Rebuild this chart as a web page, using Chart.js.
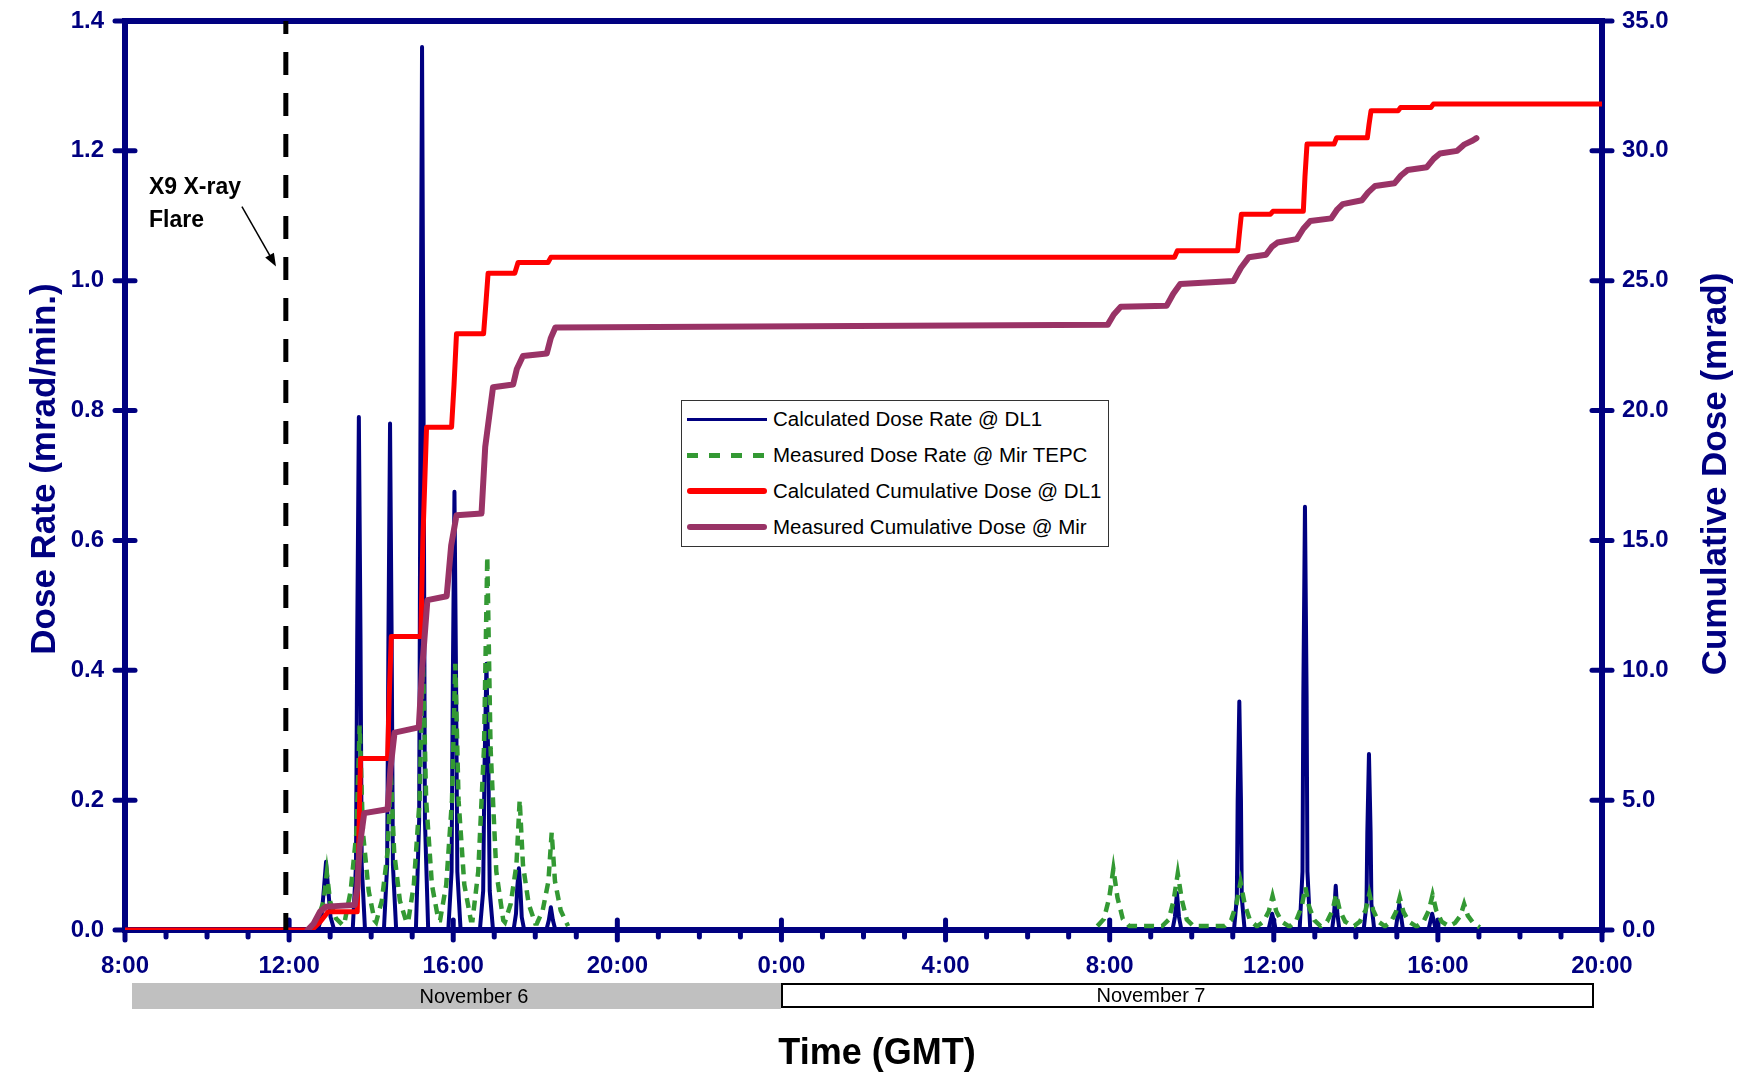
<!DOCTYPE html>
<html>
<head>
<meta charset="utf-8">
<script src="https://cdn.jsdelivr.net/npm/chart.js@4.4.1/dist/chart.umd.min.js"></script>
<style>
  body { margin: 0; background: #fff; }
  #wrap { position: relative; width: 1740px; height: 1075px; background: #fff; overflow: hidden;
          font-family: "Liberation Sans", Arial, sans-serif; }
  #chart { position: absolute; left: 0; top: 0; }
  .title { position: absolute; font-weight: bold; text-align: center; white-space: nowrap; }
  .vtitle { width: 500px; height: 40px; line-height: 40px; font-size: 35px; color: #000080;
            transform: rotate(-90deg); }
  #legend { position: absolute; left: 681px; top: 400px; width: 428px; height: 147px; box-sizing: border-box;
            border: 1.5px solid #333; background: #fff; font-size: 20.5px; color: #000; }
  #legend .row { display: flex; align-items: center; height: 36px; }
  #legend .swatch { display: inline-block; width: 80px; margin-left: 5px; margin-right: 6px; }
  .day { position: absolute; box-sizing: border-box; }
  .daytext { position: absolute; width: 200px; text-align: center; font-size: 20px; line-height: 26px; color: #000; }
  #note { position: absolute; left: 149px; top: 170px; font-weight: bold; font-size: 23px; line-height: 33px; color: #000; }
</style>
</head>
<body>
<div id="wrap">
  <canvas id="chart" width="1740" height="1075"></canvas>
  <div class="title vtitle" style="left:-207px; top:449px;">Dose Rate (mrad/min.)</div>
  <div class="title vtitle" style="left:1464px; top:454px;">Cumulative Dose (mrad)</div>
  <div class="title" style="left:727px; top:1032px; width:300px; font-size:36px; line-height:40px; color:#000;">Time (GMT)</div>
  <div id="note">X9 X-ray<br>Flare</div>
  <div class="day" style="left:132px; top:983px; width:649px; height:26px; background:#c0c0c0;"></div>
  <div class="day" style="left:781px; top:983px; width:813px; height:25px; border:2px solid #000; background:#fff;"></div>
  <div class="daytext" style="left:374px; top:983px;">November 6</div>
  <div class="daytext" style="left:1051px; top:982px;">November 7</div>
  <div id="legend">
    <div class="row"><span class="swatch" style="height:3px; background:#000080;"></span><span>Calculated Dose Rate @ DL1</span></div>
    <div class="row"><span class="swatch" style="height:5px; background:repeating-linear-gradient(90deg, #339933 0 11px, transparent 11px 22px);"></span><span>Measured Dose Rate @ Mir TEPC</span></div>
    <div class="row"><span class="swatch" style="height:6px; border-radius:3px; background:#ff0000;"></span><span>Calculated Cumulative Dose @ DL1</span></div>
    <div class="row"><span class="swatch" style="height:6px; border-radius:3px; background:#993366;"></span><span>Measured Cumulative Dose @ Mir</span></div>
  </div>
</div>
<script>
// time is hours since Nov 6 0:00 GMT (8 = Nov 6 8:00, 44 = Nov 7 20:00)
const NAVY = '#000080';

// Calculated Dose Rate @ DL1 (mrad/min)
const calcRateHours = [
  8.0, 12.70, 12.79, 12.85, 12.90, 12.95, 13.01, 13.10,
  13.55, 13.63, 13.66, 13.70, 13.74, 13.77, 13.85,
  14.31, 14.39, 14.42, 14.46, 14.50, 14.53, 14.61,
  15.09, 15.17, 15.20, 15.24, 15.28, 15.31, 15.39,
  15.88, 15.96, 15.99, 16.03, 16.07, 16.10, 16.18,
  16.65, 16.73, 16.76, 16.81, 16.86, 16.89, 16.97,
  17.47, 17.53, 17.56, 17.60, 17.64, 17.67, 17.73,
  18.27, 18.33, 18.38, 18.43, 18.49,
  33.53, 33.59, 33.64, 33.69, 33.75,
  35.03, 35.10, 35.12, 35.16, 35.20, 35.22, 35.29,
  35.87, 35.96, 36.05,
  36.63, 36.70, 36.72, 36.76, 36.80, 36.82, 36.89,
  37.42, 37.47, 37.51, 37.55, 37.60,
  38.19, 38.26, 38.28, 38.32, 38.36, 38.38, 38.45,
  38.97, 39.06, 39.15,
  39.77, 39.86, 39.95, 44.0
];
const calcRateValues = [
  0, 0, 0.02, 0.065, 0.105, 0.065, 0.02, 0,
  0, 0.1, 0.45, 0.79, 0.45, 0.1, 0,
  0, 0.1, 0.44, 0.78, 0.44, 0.1, 0,
  0, 0.17, 0.75, 1.36, 0.75, 0.17, 0,
  0, 0.09, 0.38, 0.675, 0.38, 0.09, 0,
  0, 0.06, 0.24, 0.41, 0.24, 0.06, 0,
  0, 0.025, 0.065, 0.095, 0.06, 0.02, 0,
  0, 0.015, 0.035, 0.015, 0,
  0, 0.02, 0.057, 0.02, 0,
  0, 0.05, 0.2, 0.352, 0.2, 0.05, 0,
  0, 0.025, 0,
  0, 0.09, 0.36, 0.652, 0.36, 0.09, 0,
  0, 0.025, 0.068, 0.025, 0,
  0, 0.04, 0.15, 0.271, 0.15, 0.04, 0,
  0, 0.04, 0,
  0, 0.025, 0, 0
];

// Measured Dose Rate @ Mir TEPC (mrad/min), null = no data
const measRateHours = [
  12.54, 12.70, 12.84, 12.92, 13.00, 13.14, 13.30,
  13.34, 13.50, 13.64, 13.72, 13.80, 13.94, 14.08,
  14.12, 14.26, 14.40, 14.48, 14.56, 14.70, 14.86,
  14.90, 15.04, 15.18, 15.26, 15.34, 15.48, 15.64,
  15.68, 15.83, 15.97, 16.05, 16.13, 16.27, 16.43,
  16.47, 16.61, 16.75, 16.83, 16.91, 17.05, 17.22,
  17.26, 17.40, 17.54, 17.62, 17.70, 17.84, 18.00,
  18.04, 18.18, 18.32, 18.40, 18.48, 18.62, 18.80,
  25.0,
  31.70, 31.86, 31.99, 32.09, 32.19, 32.32, 32.48,
  33.28, 33.44, 33.56, 33.66, 33.76, 33.88, 34.04,
  34.80, 34.96, 35.09, 35.19, 35.29, 35.42, 35.58,
  35.60, 35.75, 35.88, 35.97, 36.06, 36.19, 36.36,
  36.40, 36.55, 36.68, 36.77, 36.86, 36.99, 37.14,
  37.16, 37.30, 37.43, 37.52, 37.61, 37.74, 37.92,
  37.96, 38.10, 38.24, 38.33, 38.42, 38.55, 38.70,
  38.72, 38.86, 38.98, 39.07, 39.16, 39.29, 39.46,
  39.50, 39.65, 39.78, 39.87, 39.96, 40.09, 40.26,
  40.28, 40.42, 40.55, 40.64, 40.73, 40.86, 41.02
];
const measRateValues = [
  0.006, 0.018, 0.044, 0.088, 0.044, 0.018, 0.008,
  0.008, 0.06, 0.15, 0.315, 0.15, 0.06, 0.015,
  0.012, 0.045, 0.12, 0.24, 0.12, 0.045, 0.012,
  0.012, 0.07, 0.2, 0.42, 0.2, 0.07, 0.015,
  0.015, 0.07, 0.2, 0.41, 0.2, 0.07, 0.015,
  0.015, 0.09, 0.28, 0.575, 0.28, 0.09, 0.015,
  0.012, 0.04, 0.1, 0.2, 0.1, 0.04, 0.01,
  0.01, 0.03, 0.075, 0.15, 0.075, 0.03, 0.006,
  null,
  0.006, 0.017, 0.05, 0.094, 0.05, 0.017, 0.006,
  0.006, 0.016, 0.046, 0.087, 0.046, 0.016, 0.006,
  0.006, 0.015, 0.04, 0.074, 0.04, 0.015, 0.006,
  0.006, 0.013, 0.029, 0.052, 0.029, 0.013, 0.006,
  0.006, 0.015, 0.036, 0.066, 0.036, 0.015, 0.006,
  0.006, 0.013, 0.03, 0.055, 0.03, 0.013, 0.006,
  0.006, 0.013, 0.031, 0.056, 0.031, 0.013, 0.006,
  0.006, 0.013, 0.028, 0.05, 0.028, 0.013, 0.006,
  0.006, 0.013, 0.03, 0.054, 0.03, 0.013, 0.006,
  0.006, 0.011, 0.022, 0.04, 0.022, 0.011, 0.004
];

// Calculated Cumulative Dose @ DL1 (mrad)
const calcDoseHours = [
  8.0, 12.55, 12.75, 12.95, 13.66, 13.70, 13.74, 14.40, 14.44, 14.49,
  15.21, 15.26, 15.35, 15.96, 16.02, 16.08, 16.74, 16.80, 16.85, 17.50,
  17.58, 18.31, 18.38, 33.58, 33.65, 35.12, 35.16, 35.21, 35.92, 35.98,
  36.72, 36.76, 36.81, 37.47, 37.53, 38.28, 38.32, 38.37, 39.03, 39.09,
  39.83, 39.89, 44.0
];
const calcDoseValues = [
  0, 0, 0.3, 0.7, 0.7, 3.5, 6.6, 6.6, 9.0, 11.3,
  11.3, 15.0, 19.36, 19.36, 21.0, 22.96, 22.96, 24.2, 25.29, 25.29,
  25.7, 25.7, 25.9, 25.9, 26.15, 26.15, 26.8, 27.56, 27.56, 27.67,
  27.67, 29.0, 30.26, 30.26, 30.5, 30.5, 31.0, 31.54, 31.54, 31.67,
  31.67, 31.8, 31.8
];

// Measured Cumulative Dose @ Mir (mrad)
const measDoseHours = [
  12.45, 12.60, 12.75, 12.90, 13.60, 13.66, 13.72, 13.83, 14.40, 14.47,
  14.57, 15.16, 15.24, 15.37, 15.84, 15.95, 16.08, 16.69, 16.78, 16.97,
  17.46, 17.55, 17.70, 18.28, 18.38, 18.49, 31.95, 32.10, 32.27, 33.39,
  33.55, 33.72, 35.02, 35.20, 35.39, 35.81, 35.95, 36.09, 36.56, 36.72,
  36.89, 37.40, 37.55, 37.68, 38.15, 38.30, 38.47, 38.94, 39.10, 39.26,
  39.73, 39.90, 40.05, 40.47, 40.65, 40.85, 40.94
];
const measDoseValues = [
  0, 0.25, 0.7, 0.9, 0.96, 1.6, 3.2, 4.5, 4.65, 6.2,
  7.6, 7.8, 10.0, 12.7, 12.85, 14.8, 15.97, 16.04, 18.6, 20.9,
  21.0, 21.6, 22.1, 22.2, 22.8, 23.2, 23.3, 23.7, 24.0, 24.04,
  24.5, 24.87, 24.99, 25.5, 25.9, 26.0, 26.3, 26.47, 26.6, 27.0,
  27.3, 27.4, 27.75, 27.95, 28.1, 28.4, 28.65, 28.75, 29.05, 29.26,
  29.37, 29.7, 29.9, 30.0, 30.25, 30.4, 30.49
];

// X9 flare marker and its arrow (hours, dose-rate units)
const flareHour = 11.92;
const arrowFrom = [10.85, 1.114];
const arrowTo = [11.68, 1.022];

const pts = (xs, ys) => xs.map((x, i) => ({ x: x, y: ys[i] }));

// frame, tick marks and the arrow
const framePlugin = {
  id: 'frame',
  beforeDatasetsDraw(chart) {
    const { ctx, chartArea: a, scales } = chart;
    ctx.save();
    ctx.strokeStyle = NAVY;
    ctx.lineWidth = 6;
    ctx.lineJoin = 'miter';
    ctx.strokeRect(a.left, a.top, a.right - a.left, a.bottom - a.top);
    ctx.lineWidth = 5;
    ctx.lineCap = 'round';
    scales.x.ticks.forEach(t => {
      const px = scales.x.getPixelForValue(t.value);
      const major = Math.round(t.value) % 4 === 0;
      ctx.beginPath();
      ctx.moveTo(px, major ? a.bottom - 10 : a.bottom);
      ctx.lineTo(px, a.bottom + (major ? 10 : 7));
      ctx.stroke();
    });
    scales.y.ticks.forEach(t => {
      const py = scales.y.getPixelForValue(t.value);
      ctx.beginPath(); ctx.moveTo(a.left - 10, py); ctx.lineTo(a.left + 10, py); ctx.stroke();
    });
    scales.y1.ticks.forEach(t => {
      const py = scales.y1.getPixelForValue(t.value);
      ctx.beginPath(); ctx.moveTo(a.right - 10, py); ctx.lineTo(a.right + 10, py); ctx.stroke();
    });
    ctx.restore();
  },
  afterDatasetsDraw(chart) {
    const { ctx, scales } = chart;
    const x0 = scales.x.getPixelForValue(arrowFrom[0]), y0 = scales.y.getPixelForValue(arrowFrom[1]);
    const x1 = scales.x.getPixelForValue(arrowTo[0]), y1 = scales.y.getPixelForValue(arrowTo[1]);
    const ang = Math.atan2(y1 - y0, x1 - x0);
    ctx.save();
    ctx.strokeStyle = '#000';
    ctx.fillStyle = '#000';
    ctx.lineWidth = 1.5;
    ctx.beginPath(); ctx.moveTo(x0, y0); ctx.lineTo(x1 - 8 * Math.cos(ang), y1 - 8 * Math.sin(ang)); ctx.stroke();
    ctx.beginPath();
    ctx.moveTo(x1, y1);
    ctx.lineTo(x1 - 13 * Math.cos(ang) + 5 * Math.sin(ang), y1 - 13 * Math.sin(ang) - 5 * Math.cos(ang));
    ctx.lineTo(x1 - 13 * Math.cos(ang) - 5 * Math.sin(ang), y1 - 13 * Math.sin(ang) + 5 * Math.cos(ang));
    ctx.closePath();
    ctx.fill();
    ctx.restore();
  }
};

Chart.defaults.font.family = "'Liberation Sans', Arial, sans-serif";

const tickFont = { size: 24, weight: 'bold' };
// invisible tick marks only reserve room between axis and labels
const hiddenGrid = len => ({ drawOnChartArea: false, drawTicks: true, tickLength: len, color: 'rgba(0,0,0,0)' });

new Chart(document.getElementById('chart'), {
  type: 'line',
  data: {
    datasets: [
      {
        label: 'X9 X-ray Flare',
        data: [{ x: flareHour, y: 1.4 }, { x: flareHour, y: 0 }],
        yAxisID: 'y', borderColor: '#000', borderWidth: 5, borderDash: [23, 18], borderDashOffset: 10,
        pointRadius: 0, order: 0
      },
      {
        label: 'Measured Cumulative Dose @ Mir',
        data: pts(measDoseHours, measDoseValues),
        yAxisID: 'y1', borderColor: '#993366', borderWidth: 6, pointRadius: 0,
        borderCapStyle: 'round', borderJoinStyle: 'round', order: 1
      },
      {
        label: 'Calculated Cumulative Dose @ DL1',
        data: pts(calcDoseHours, calcDoseValues),
        yAxisID: 'y1', borderColor: '#ff0000', borderWidth: 5, pointRadius: 0,
        borderJoinStyle: 'round', order: 2
      },
      {
        label: 'Measured Dose Rate @ Mir TEPC',
        data: pts(measRateHours, measRateValues),
        yAxisID: 'y', borderColor: '#339933', borderWidth: 4.5, borderDash: [10, 7], pointRadius: 0,
        spanGaps: false, order: 3
      },
      {
        label: 'Calculated Dose Rate @ DL1',
        data: pts(calcRateHours, calcRateValues),
        yAxisID: 'y', borderColor: NAVY, borderWidth: 4, pointRadius: 0,
        borderJoinStyle: 'round', order: 4
      }
    ]
  },
  options: {
    responsive: false,
    animation: false,
    layout: { padding: { top: 21, left: 0, right: 0, bottom: 0 } },
    plugins: { legend: { display: false }, tooltip: { enabled: false } },
    scales: {
      x: {
        type: 'linear', position: 'bottom', min: 8, max: 44,
        grid: { display: false, drawTicks: false },
        border: { display: false },
        ticks: {
          stepSize: 1, autoSkip: false, maxRotation: 0, padding: 22,
          color: NAVY, font: tickFont,
          callback: v => (Math.round(v) % 4 === 0 ? (Math.round(v) % 24) + ':00' : '')
        },
        afterFit: s => { s.height = 145; }
      },
      y: {
        position: 'left', min: 0, max: 1.4,
        grid: hiddenGrid(21),
        border: { display: false },
        ticks: { stepSize: 0.2, padding: 0, color: NAVY, font: tickFont, callback: v => v.toFixed(1) },
        afterFit: s => { s.width = 125; }
      },
      y1: {
        position: 'right', min: 0, max: 35,
        grid: hiddenGrid(20),
        border: { display: false },
        ticks: { stepSize: 5, padding: 0, color: NAVY, font: tickFont, callback: v => v.toFixed(1) },
        afterFit: s => { s.width = 138; }
      }
    }
  },
  plugins: [framePlugin]
});
</script>
</body>
</html>
